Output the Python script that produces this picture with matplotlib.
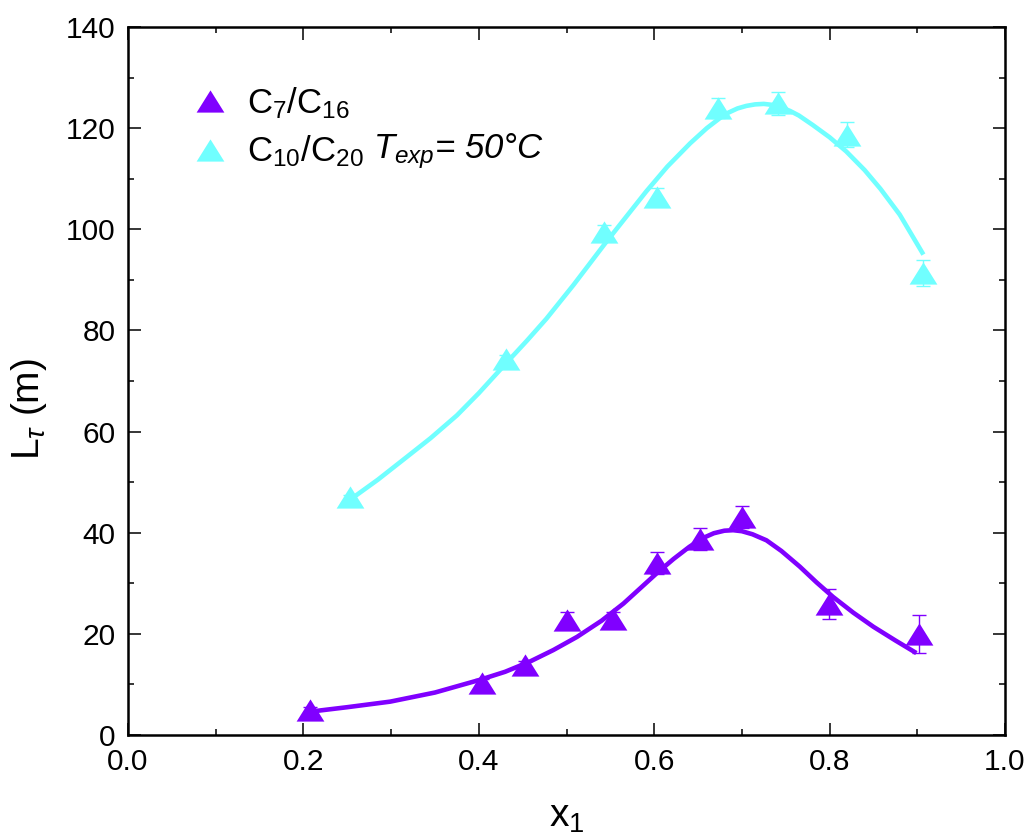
import numpy as np
import matplotlib.pyplot as plt
from matplotlib.ticker import MultipleLocator

plt.rcParams['font.family'] = ['Liberation Sans', 'DejaVu Sans']
plt.rcParams['mathtext.fontset'] = 'custom'
plt.rcParams['mathtext.rm'] = 'Liberation Sans'
plt.rcParams['mathtext.it'] = 'Liberation Sans:italic'
plt.rcParams['mathtext.sf'] = 'Liberation Sans'

# C7/C16 measurements
x_c7 = [0.207, 0.404, 0.453, 0.501, 0.553, 0.603, 0.652, 0.700, 0.799, 0.902]
y_c7 = [5.0, 10.3, 13.8, 22.8, 22.9, 34.0, 38.7, 43.1, 25.9, 20.0]
e_c7 = [0.5, 0.8, 0.8, 1.5, 1.5, 2.1, 2.2, 2.2, 3.0, 3.7]

# C10/C20 measurements
x_c10 = [0.253, 0.431, 0.543, 0.603, 0.673, 0.741, 0.820, 0.907]
y_c10 = [47.0, 74.4, 99.4, 106.4, 124.0, 124.9, 118.7, 91.4]
e_c10 = [0.5, 0.8, 1.5, 1.8, 2.0, 2.3, 2.5, 2.6]

# fitted curves
fx_c7 = [0.207, 0.250, 0.299, 0.350, 0.401, 0.430, 0.458, 0.485, 0.512, 0.540,
         0.565, 0.584, 0.603, 0.622, 0.640, 0.655, 0.668, 0.680, 0.690, 0.700,
         0.712, 0.728, 0.745, 0.766, 0.785, 0.804, 0.827, 0.850, 0.875, 0.899]
fy_c7 = [4.6, 5.5, 6.6, 8.4, 10.9, 12.5, 14.5, 16.8, 19.4, 22.6,
         26.0, 29.0, 32.0, 34.8, 37.2, 38.9, 39.9, 40.4, 40.5, 40.3,
         39.7, 38.5, 36.4, 33.3, 30.2, 27.3, 24.2, 21.4, 18.7, 16.2]
fx_c10 = [0.253, 0.285, 0.318, 0.345, 0.375, 0.400, 0.430, 0.455, 0.477, 0.508,
          0.544, 0.570, 0.591, 0.615, 0.641, 0.660, 0.675, 0.685, 0.695, 0.705,
          0.715, 0.725, 0.735, 0.745, 0.755, 0.765, 0.781, 0.800, 0.819, 0.840,
          0.858, 0.880, 0.907]
fy_c10 = [46.5, 50.5, 55.0, 58.7, 63.2, 67.6, 73.3, 78.0, 82.3, 89.0,
          97.2, 102.9, 107.5, 112.4, 117.0, 120.0, 122.0, 123.1, 123.9, 124.4,
          124.7, 124.8, 124.6, 124.1, 123.4, 122.5, 120.6, 118.2, 115.4, 111.7,
          108.0, 102.9, 95.0]

purple = '#8000FF'
cyan = '#70FFFF'

tri = [(-1, -0.8), (1, -0.8), (0, 0.8), (-1, -0.8)]

fig = plt.figure(figsize=(10.3, 8.34), dpi=100)
ax = fig.add_axes([0.1243, 0.1187, 0.8514, 0.8489])

ax.plot(fx_c7, fy_c7, color=purple, lw=3.3, solid_capstyle='butt',
        solid_joinstyle='round', zorder=2)
ax.plot(fx_c10, fy_c10, color=cyan, lw=3.3, solid_capstyle='butt',
        solid_joinstyle='round', zorder=2)

ax.errorbar(x_c7, y_c7, yerr=e_c7, fmt='none', ecolor=purple, elinewidth=1.0,
            capsize=4.7, capthick=1.0, zorder=3)
ax.errorbar(x_c10, y_c10, yerr=e_c10, fmt='none', ecolor=cyan, elinewidth=1.0,
            capsize=4.7, capthick=1.0, zorder=3)
ax.plot(x_c7, y_c7, ls='none', marker=tri, ms=20, color=purple, mec='none',
        zorder=4, label=r'C$_7$/C$_{16}$')
ax.plot(x_c10, y_c10, ls='none', marker=tri, ms=20, color=cyan, mec='none',
        zorder=4, label=r'C$_{10}$/C$_{20}$')

ax.set_xlim(0, 1.0)
ax.set_ylim(0, 140)
ax.xaxis.set_major_locator(MultipleLocator(0.2))
ax.xaxis.set_minor_locator(MultipleLocator(0.1))
ax.yaxis.set_major_locator(MultipleLocator(20))
ax.yaxis.set_minor_locator(MultipleLocator(10))
ax.tick_params(which='both', direction='in', top=True, right=True, width=1.1,
               labelsize=21.5)
ax.tick_params(which='major', length=9, pad=9)
ax.tick_params(which='minor', length=4.5)
for s in ax.spines.values():
    s.set_linewidth(1.8)

ax.set_xlabel(r'x$_1$', fontsize=28, labelpad=17)
ax.set_ylabel(r'L$_\tau$ (m)', fontsize=28)
ax.yaxis.set_label_coords(-0.09, 0.46)

leg = ax.legend(loc='upper left', bbox_to_anchor=(0.058, 0.938), frameon=False,
                fontsize=25, handlelength=1.0, handletextpad=0.55,
                labelspacing=0.38, borderaxespad=0)

# italic part of the second legend entry, placed right after its text
fig.canvas.draw()
bb = leg.get_texts()[1].get_window_extent().transformed(ax.transAxes.inverted())
ax.text(bb.x1 + 0.011, (bb.y0 + bb.y1) / 2, r'$T_{exp}$= 50°C',
        transform=ax.transAxes, va='center', ha='left', fontsize=25,
        style='italic')

plt.savefig('out.png')
